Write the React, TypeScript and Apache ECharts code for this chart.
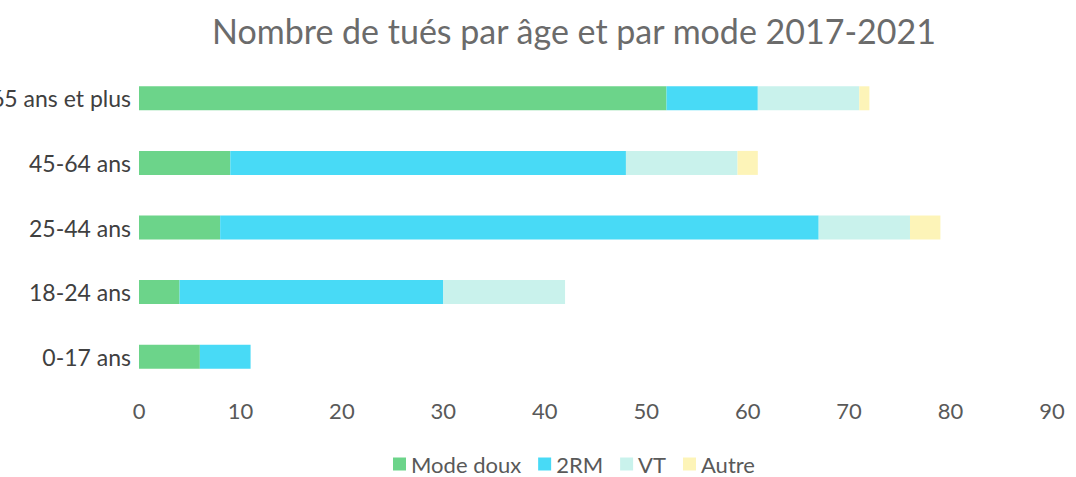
import React, { useEffect, useRef } from "react";
import * as echarts from "echarts";

const categories = ["0-17 ans", "18-24 ans", "25-44 ans", "45-64 ans", "65 ans et plus"];
const modeDoux = [6, 4, 8, 9, 52];
const deuxRM = [5, 26, 59, 39, 9];
const vt = [0, 12, 9, 11, 10];
const autre = [0, 0, 3, 2, 1];
const seriesNames = ["Mode doux", "2RM", "VT", "Autre"];
const colors = ["#6cd48a", "#48daf6", "#c9f2ec", "#fdf4b8"];

const FONT = "Lato";

export default function App() {
  const ref = useRef<HTMLDivElement>(null);
  useEffect(() => {
    const chart = echarts.init(ref.current!, null, { renderer: "svg" });
    const data = [modeDoux, deuxRM, vt, autre];
    chart.setOption({
      animation: false,
      title: {
        text: "Nombre de tués par âge et par mode 2017-2021",
        left: 569,
        textAlign: "center",
        top: 8,
        textStyle: { fontFamily: FONT, fontSize: 34, fontWeight: "normal", color: "#6b6b6b" },
      },
      legend: {
        top: 452,
        left: 393,
        padding: 0,
        itemWidth: 13,
        itemHeight: 13,
        itemGap: 17,
        icon: "rect",
        textStyle: { fontFamily: FONT, fontSize: 22, lineHeight: 24, color: "#595959" },
        data: seriesNames,
      },
      grid: { left: 139, right: 24, top: 66, bottom: 88, outerBoundsMode: "none", containLabel: false },
      xAxis: {
        type: "value",
        min: 0,
        max: 90,
        interval: 10,
        axisLine: { show: false },
        axisTick: { show: false },
        splitLine: { show: false },
        axisLabel: { fontFamily: FONT, fontSize: 22, color: "#595959", margin: 10 },
      },
      yAxis: {
        type: "category",
        data: categories,
        axisLine: { show: false },
        axisTick: { show: false },
        axisLabel: { fontFamily: FONT, fontSize: 23, color: "#404040", margin: 8 },
      },
      series: seriesNames.map((n, i) => ({
        name: n,
        type: "bar",
        stack: "total",
        barWidth: 24,
        itemStyle: { color: colors[i] },
        data: data[i],
      })),
    });
    return () => chart.dispose();
  }, []);
  return <div ref={ref} style={{ position: "fixed", left: 0, top: 0, width: 1076, height: 477, background: "#fff" }} />;
}
